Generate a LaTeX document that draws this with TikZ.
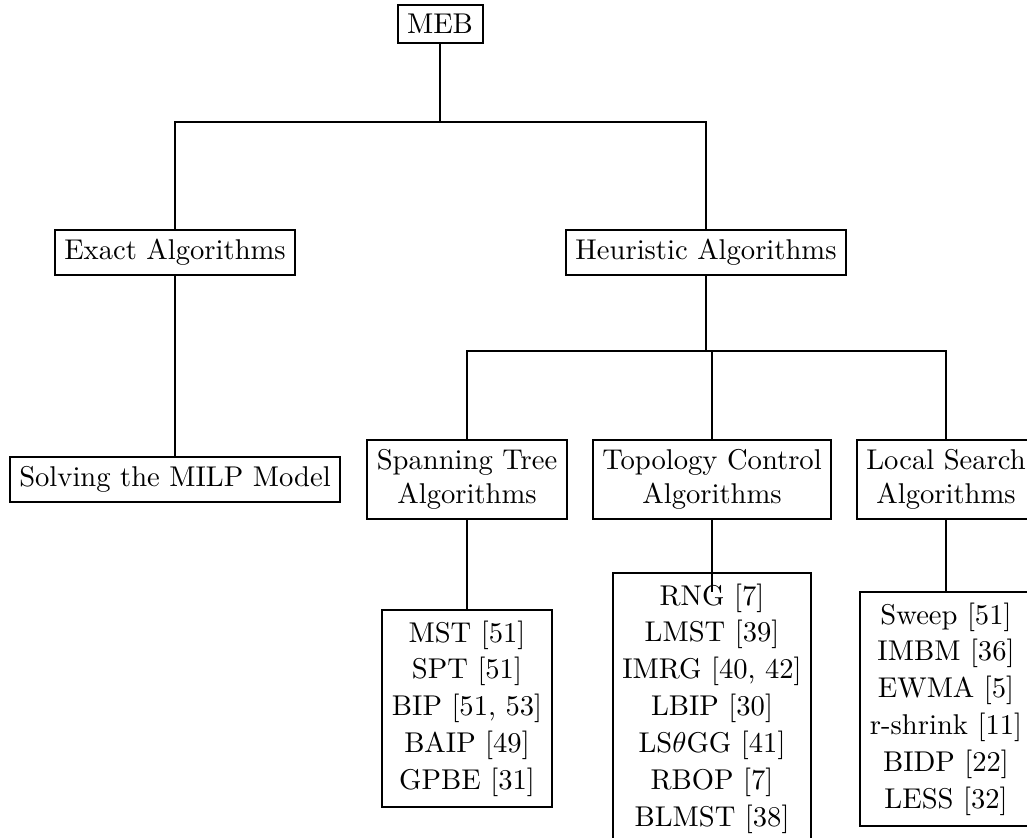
\documentclass[tikz,border=0pt]{standalone}
\usetikzlibrary{calc}
\newcommand{\liststack}[1]{{\renewcommand{\arraystretch}{1.075}\begin{tabular}{@{}c@{}}#1\end{tabular}}}
\begin{document}
\begin{tikzpicture}[x=0.3497pt,y=-0.3497pt,
  box/.style={draw,line width=0.7pt,inner sep=3.33pt,align=center,font=\fontsize{10}{12}\selectfont},
  listbox/.style={draw,line width=0.7pt,inner xsep=3.33pt,inner ysep=2.2pt,anchor=north},
  conn/.style={line width=0.7pt}]
\useasboundingbox (0,0) rectangle (1027,838);
\node[box] (meb) at (440,24) {MEB};
\node[box] (exact) at (175,252.5) {Exact Algorithms};
\node[box] (heur) at (706,252.5) {Heuristic Algorithms};
\node[box] (milp) at (175,479.5) {Solving the MILP Model};
\node[box] (span) at (467,479.5) {Spanning Tree\\Algorithms};
\node[box] (topo) at (712,479.5) {Topology Control\\Algorithms};
\node[box] (local) at (946,479.5) {Local Search\\Algorithms};
\node[listbox] (stlist) at (467,609) {\liststack{MST [51]\\SPT [51]\\BIP [51, 53]\\BAIP [49]\\GPBE [31]}};
\node[listbox] (tclist) at (712,572) {\liststack{RNG [7]\\LMST [39]\\IMRG [40, 42]\\LBIP [30]\\LS$\theta$GG [41]\\RBOP [7]\\BLMST [38]}};
\node[listbox] (lslist) at (946,591) {\liststack{Sweep [51]\\IMBM [36]\\EWMA [5]\\r-shrink [11]\\BIDP [22]\\LESS [32]}};
\coordinate (j1) at (440,122);
\coordinate (j2) at (706,351);
\coordinate (tend) at (712,592);
\draw[conn] (meb.south) -- (j1);
\draw[conn] (exact.north) |- (j1) -| (heur.north);
\draw[conn] (exact.south) -- (milp.north);
\draw[conn] (heur.south) -- (j2);
\draw[conn] (span.north) |- (j2) -| (local.north);
\draw[conn] (topo.north) -- (topo.north |- j2);
\draw[conn] (span.south) -- (stlist.north);
\draw[conn] (topo.south) -- (tend);
\draw[conn] (local.south) -- (lslist.north);
\end{tikzpicture}
\end{document}
